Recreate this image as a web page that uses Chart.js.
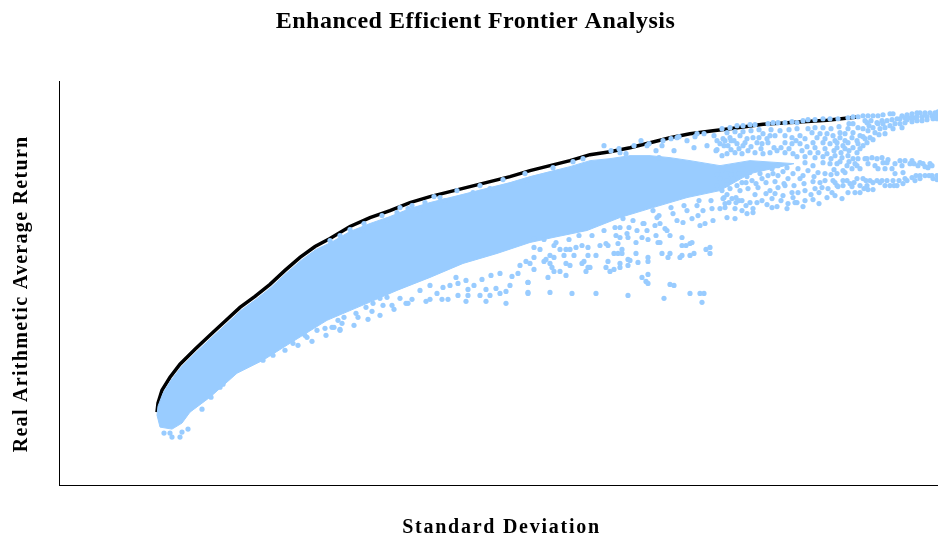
<!DOCTYPE html>
<html><head><meta charset="utf-8">
<style>html,body{margin:0;padding:0;background:#fff}#w{width:938px;height:537px}</style>
<script src="https://cdn.jsdelivr.net/npm/chart.js@4"></script></head>
<body><div id="w"><canvas id="c"></canvas></div>
<script>
const chartTitle = "Enhanced Efficient Frontier Analysis";
const xTitle = "Standard Deviation";
const yTitle = "Real Arithmetic Average Return";
// All values are read from the picture; the axes carry no ticks, so units are relative.
const frontier = [[98,73],[99,82],[103,95],[111,108],[121,121],[136,136],[153,152],[166,164],[181,178],[196,189],[211,201],[226,215],[241,228],[256,239],[271,247],[291,259],[311,268],[331,275],[351,283],[371,289],[391,294],[411,299],[431,304],[451,309],[471,315],[491,320],[511,325],[531,331],[551,334],[571,338],[591,343],[611,348],[631,352],[654,355],[671,357],[704,361.5],[744,364],[768,365.5],[801,369]];
const denseUpper = [[98,70],[99,79],[104,92],[112,105],[122,118],[137,133],[154,149],[167,161],[182,175],[197,186],[212,198],[227,212],[242,225],[257,236],[272,243],[291,254],[311,262],[331,269],[351,277],[371,283],[391,288],[411,293],[431,298],[451,303],[471,309],[491,314],[511,319],[531,325],[551,327],[571,330],[591,330],[611,328],[631,325],[661,320],[691,325],[735,322]];
const denseLower = [[98,70],[101,58],[113,56],[123,62],[131,73],[151,88],[178,112],[204,125],[231,142],[268,165],[308,182],[338,195],[371,208],[404,222],[438,232],[471,243],[494,248],[528,255],[561,268],[594,278],[628,288],[661,295],[691,312],[735,322]];
const portfoliosEdge = [[105,52],[113,48],[121,48],[123,53],[129,56],[111,52],[143,76],[152,88],[161,98],[164,101],[239,140],[253,144],[267,150],[248,148],[258,155],[266,157],[273,158],[281,155],[246,150],[234,142],[226,135],[214,130],[204,125],[271,245],[281,250],[291,256],[305,262],[323,270],[341,278],[353,280],[366,283],[375,289],[381,288],[398,295],[421,300],[444,306],[466,312],[304,255],[314,258],[328,265],[338,273],[349,277],[361,275],[371,278],[386,285],[404,288],[414,293],[431,297],[451,300],[468,305],[494,318],[514,324],[524,327],[561,333],[588,340],[604,345],[618,348],[638,352]];
const portfoliosLowMid = [[281,156],[283,162],[295,160],[275,158],[279,165],[285,168],[299,168],[309,166],[321,170],[313,174],[335,176],[333,180],[307,178],[297,172],[347,182],[349,182],[367,184],[371,186],[383,186],[389,186],[407,184],[427,184],[447,182],[399,190],[409,190],[421,190],[431,190],[441,192],[447,194],[437,197],[427,196],[415,200],[409,196],[399,202],[397,208],[407,205],[423,206],[432,210],[441,212],[451,200],[453,209],[469,203],[469,192],[459,212],[391,200],[378,192],[353,186],[341,187],[321,187],[328,188],[314,182],[324,180],[371,200],[384,198],[361,195]];
const portfoliosLowHigh = [[469,193],[491,193],[513,192],[537,192],[569,190],[605,187],[631,192],[641,192],[645,192],[643,183],[469,203],[611,201],[615,200],[587,204],[589,202],[583,208],[589,211],[489,208],[507,210],[527,214],[529,218],[531,218],[551,214],[555,216],[561,218],[569,220],[571,225],[579,223],[589,224],[589,228],[603,232],[611,232],[609,228],[623,230],[621,228],[631,230],[635,232],[647,236],[651,238],[651,232],[623,248],[623,240],[627,240],[631,242],[633,243],[601,243],[599,243],[597,250],[589,246],[583,248],[577,243],[577,232],[569,226],[561,222],[555,232],[559,232],[563,232],[549,224],[547,218],[537,230],[529,230],[525,224],[523,222],[515,230],[511,220],[507,222],[501,214],[495,214],[493,218],[491,222],[475,216],[471,222],[467,224],[461,220],[475,228],[485,224],[487,226],[491,230],[495,228],[505,230],[507,236],[501,236],[495,240],[481,236],[475,238],[511,236],[517,238],[523,240],[529,238],[541,240],[547,242],[549,240],[559,242],[563,236],[557,250],[561,248],[569,248],[594,275],[598,268],[601,262],[606,257],[611,250],[618,265],[624,263],[633,267],[639,270],[644,275],[653,277],[661,277],[666,282],[654,265],[641,260],[646,262],[608,255],[596,260],[584,262],[574,265],[564,267],[561,258],[568,252],[578,255],[588,255],[614,272],[628,275],[638,280],[475,247],[485,246],[497,243],[510,246],[520,250],[533,250],[545,255],[556,258],[570,258],[585,262],[600,270],[612,278],[625,280],[640,285],[652,285],[665,288],[680,285]];
const portfoliosFan = [[545,340],[552,335],[560,337],[567,332],[575,340],[582,345],[590,342],[597,335],[603,340],[612,347],[620,349],[628,345],[636,349],[645,352],[655,350],[600,328],[615,335],[635,338],[648,340],[657,335],[665,340],[672,345],
[663,357],[671,358],[678,360],[684,360],[691,361],[696,361],[709,362],[714,363],[719,363],[726,363],[733,364],[738,363],[744,365],[749,366],[756,366],[764,367],[771,367],[779,367],[789,368],[794,369],[799,369],
[664,347],[671,348],[681,350],[688,347],[694,348],[704,352],[711,350],[721,355],[733,348],[741,350],[749,357],[753,353],[761,352],[768,352],[774,350],[781,353],
[661,342],[669,340],[678,342],[684,340],[698,343],[703,342],[709,343],[726,343],[733,342],[741,342],[754,343],[764,343],[771,342],[778,338],[786,337],
[663,330],[668,332],[676,333],[683,332],[689,335],[696,333],[704,332],[711,333],[718,335],[726,333],[734,332],[743,335],[751,333],[759,333],[768,332],[776,330],[783,328],[789,330],[794,327],
[746,323],[754,320],[764,323],[771,322],[778,322],[788,320],
[663,315],[669,317],[676,315],[684,317],[691,313],[698,317],[704,318],[713,317],[719,320],[728,318],[739,317],[749,315],[759,313],[766,312],[784,315],[793,317],[798,320],
[661,307],[668,305],[674,307],[683,303],[693,305],[703,307],[709,310],[719,310],[729,307],[741,307],[761,303],[774,305],[784,305],
[663,295],[671,297],[681,295],[689,297],[699,298],[711,295],[719,298],[726,300],[733,293],[739,293],[746,295],[756,297],[763,298],[769,297],[778,300],
[664,287],[673,287],[683,285],[691,283],[703,285],[713,287],[724,290],[729,282],[738,283],[746,285],[754,286],[768,288],[776,290],[783,287],
[666,278],[676,277],[683,275],[694,277],[713,278],[718,279],[728,277],[736,283],[668,268],[676,267],[688,272],[694,273],
[658,300],[668,301],[678,300],[687,303],[697,302],[707,303],[716,304],[725,302],[735,300],[745,302],[754,304],[766,305],[658,311],[672,311],[680,312],[688,309],[701,312],[714,312],[724,314],[734,312],[744,310],[755,309],[772,311],[778,312],[775,316],[781,324],[790,324],[738,329],[746,329],[756,328],[764,329],[772,327],[658,336],[672,336],[680,337],[692,339],[702,337],[715,338],[722,338],[730,337],[748,339],[756,338],[766,337],[775,335],[782,333],[658,345],[666,345],[675,345],[686,343],[700,348],[708,347],[716,350],[726,350],[737,345],[746,347],[758,348],[766,347],[776,345],[786,345],[668,353],[676,354],[684,354],[692,355],[700,356],[712,356],[730,356],[738,357],[756,358],[764,358],[772,357],[780,359],[790,362],[668,291],[677,288],[696,291],[707,292],[716,292],[722,285],[734,288],[752,291],[760,293],[773,293],[670,283],[677,283],[687,280],[698,283],[708,281],[744,279],[760,282]];
const portfoliosUpperArm = [[804,370],[809,370],[814,370],[819,370],[824,371],[831,372],[834,372],[843,370],[848,371],[853,372],[858,373],[861,373],[866,373],[871,373],[876,373],[879,374],[841,367],[846,368],[851,368],[858,369],[863,369],[868,369],[873,370],[878,370],[831,360],[836,362],[841,362],[846,363],[853,364],[858,365],[863,365],[868,366],[874,367],[878,367],[826,358],[821,357],[816,353],[811,348],[808,343],[804,340],[801,337],[798,333],[794,362],[799,358],[804,357],[809,355],[814,358],[819,362],[808,363],[818,363],[828,365],[789,357],[794,353],[801,350],[806,347],[798,345],[793,348],[786,352],[781,348],[789,343],[794,338],[784,340],[778,343],[806,365],[812,365],[823,365],[833,366],[838,367],[848,366],[855,368],[866,371],[876,371],[810,360],[824,362],[834,357],[843,358],[826,352],[820,351],[814,346],[804,349],[799,342],[790,335]];
const portfoliosLowerArm = [[799,327],[806,327],[813,328],[823,328],[829,326],[841,325],[846,325],[853,325],[851,322],[843,320],[861,323],[871,322],[864,322],[859,320],[869,318],[873,320],[824,323],[796,322],[801,317],[809,322],[816,320],[819,317],[836,322],[833,317],[826,317],[844,313],[836,312],[861,310],[866,310],[873,310],[878,310],[874,307],[853,308],[848,305],[834,305],[828,305],[818,305],[811,305],[804,307],[798,307],[791,302],[801,300],[808,300],[814,303],[821,303],[831,300],[838,300],[844,302],[856,305],[861,307],[809,296],[801,293],[796,293],[789,293],[814,296],[784,300],[779,299],[776,303],[786,313],[788,305],[808,327],[818,327],[828,323],[855,322],[866,319],[846,307],[840,305],[823,305],[807,305],[795,303],[870,310],[878,306],[857,310],[835,300],[826,300],[805,297],[793,299]];

const BLUE = "#99CCFF";
const xy = a => a.map(p => ({x:p[0], y:p[1]}));
const dots = [...portfoliosEdge, ...portfoliosLowMid, ...portfoliosLowHigh, ...portfoliosFan, ...portfoliosUpperArm, ...portfoliosLowerArm];
const font = "'Liberation Serif'";
function tweak(obj, name, dx, dy, spacing, ctx){
  const orig = obj[name];
  obj[name] = function(){ ctx.save(); ctx.translate(dx,dy); ctx.letterSpacing = spacing; orig.apply(this, arguments); ctx.restore(); };
}
new Chart(document.getElementById('c'), {
  type:'scatter',
  data:{datasets:[
    {label:'Portfolios', data:xy(dots), backgroundColor:BLUE, borderWidth:0, pointRadius:2.6, order:1},
    {label:'Dense upper', data:xy(denseUpper), showLine:true, pointRadius:0, borderColor:BLUE, borderWidth:1, backgroundColor:BLUE, fill:'+1', tension:0, order:2},
    {label:'Dense lower', data:xy(denseLower), showLine:true, pointRadius:0, borderColor:BLUE, borderWidth:1, tension:0, order:3},
    {label:'Efficient Frontier', data:xy(frontier), showLine:true, pointRadius:0, borderColor:'#000', borderWidth:3.5, tension:0, order:4}
  ]},
  plugins:[{id:'placeText', afterInit(chart){ chart.$done=false; }, afterLayout(chart){
    if(chart.$done) return; chart.$done=true;
    const ctx=chart.ctx;
    tweak(chart.titleBlock,'draw',6.5,0,'0.5px',ctx);
    tweak(chart.scales.x,'drawTitle',3,3,'1.75px',ctx);
    tweak(chart.scales.y,'drawTitle',10,10.5,'1.3px',ctx);
  }}],
  options:{
    responsive:true, maintainAspectRatio:false, animation:false,
    layout:{padding:0, autoPadding:false},
    plugins:{legend:{display:false}, tooltip:{enabled:false},
      title:{display:true,text:chartTitle,color:'#000',font:{family:font,size:24,weight:'bold'},padding:{top:7,bottom:46}}},
    scales:{
      x:{type:'linear',min:0,max:879,grid:{display:false},border:{display:true,color:'#000',width:1},ticks:{display:false},
        title:{display:true,text:xTitle,color:'#000',font:{family:font,size:20,weight:'bold'},padding:{top:20,bottom:0}},
        afterFit(s){s.height=52;}},
      y:{type:'linear',min:0,max:404,grid:{display:false},border:{display:true,color:'#000',width:1},ticks:{display:false},
        title:{display:true,text:yTitle,color:'#000',font:{family:font,size:20,weight:'bold'},padding:{top:0,bottom:0}},
        afterFit(s){s.width=59;}}
    }
  }
});
</script></body></html>
